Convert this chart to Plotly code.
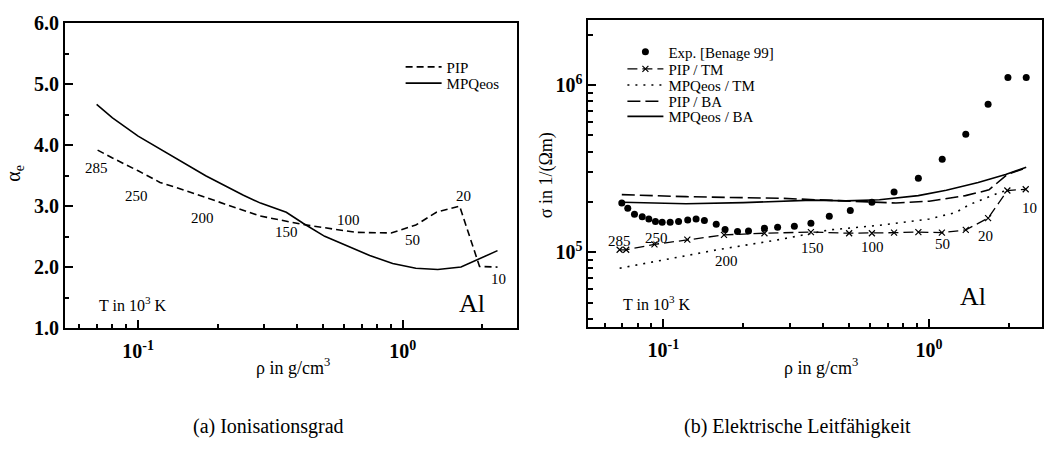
import math
import plotly.graph_objects as go

# ---------------- data: panel (a) ionisation degree ----------------
rho_mpq_a = [0.0697, 0.08, 0.1, 0.13, 0.18, 0.25, 0.29, 0.363, 0.42, 0.507, 0.75, 0.916, 1.12, 1.356, 1.66, 2.28]
alpha_mpq = [4.67, 4.45, 4.15, 3.86, 3.5, 3.18, 3.05, 2.90, 2.72, 2.505, 2.19, 2.06, 1.98, 1.96, 2.0, 2.27]
rho_pip_a = [0.0703, 0.08, 0.1, 0.121, 0.15, 0.2, 0.288, 0.418, 0.664, 0.904, 1.12, 1.34, 1.64, 1.95, 2.28]
alpha_pip = [3.92, 3.79, 3.58, 3.39, 3.26, 3.07, 2.84, 2.70, 2.57, 2.56, 2.69, 2.90, 3.00, 2.01, 2.0]
temp_labels = ["285", "250", "200", "150", "100", "50", "20", "10"]
temp_rho_a = [0.0697, 0.0986, 0.175, 0.364, 0.624, 1.087, 1.69, 2.30]
temp_alpha_a = [3.625, 3.17, 2.81, 2.58, 2.77, 2.44, 3.17, 1.81]

# ---------------- data: panel (b) electrical conductivity ----------------
rho_exp = [0.0697, 0.0734, 0.0778, 0.0832, 0.0881, 0.0933, 0.0989, 0.106, 0.114, 0.1234,
           0.1327, 0.1426, 0.158, 0.1706, 0.190, 0.209, 0.240, 0.269, 0.311, 0.359,
           0.421, 0.505, 0.609, 0.738, 0.911, 1.12, 1.374, 1.667, 1.98, 2.32]
sig_exp = [1.97e5, 1.83e5, 1.69e5, 1.63e5, 1.58e5, 1.53e5, 1.51e5, 1.51e5, 1.53e5, 1.56e5,
           1.58e5, 1.55e5, 1.47e5, 1.37e5, 1.33e5, 1.34e5, 1.39e5, 1.41e5, 1.43e5, 1.49e5,
           1.64e5, 1.78e5, 1.99e5, 2.29e5, 2.77e5, 3.6e5, 5.08e5, 7.66e5, 1.107e6, 1.107e6]
rho_pip_tm = [0.0684, 0.0724, 0.0925, 0.123, 0.169, 0.240, 0.359, 0.500, 0.609, 0.738,
              0.911, 1.117, 1.374, 1.667, 1.97, 2.31]
sig_pip_tm = [1.035e5, 1.035e5, 1.115e5, 1.19e5, 1.27e5, 1.30e5, 1.32e5, 1.30e5, 1.30e5, 1.31e5,
              1.32e5, 1.31e5, 1.36e5, 1.60e5, 2.34e5, 2.38e5]
rho_mpq_tm = [0.0684, 0.162, 0.265, 0.421, 0.65, 1.0, 1.26, 1.42, 1.86, 1.97]
sig_mpq_tm = [8.03e4, 1.04e5, 1.18e5, 1.36e5, 1.45e5, 1.58e5, 1.73e5, 1.93e5, 2.29e5, 2.34e5]
rho_pip_ba = [0.0697, 0.1216, 0.281, 0.42, 0.56, 0.75, 1.0, 1.37, 1.68, 1.97, 2.32]
sig_pip_ba = [2.21e5, 2.15e5, 2.10e5, 2.05e5, 2.01e5, 1.97e5, 2.02e5, 2.18e5, 2.36e5, 2.92e5, 3.2e5]
rho_mpq_ba = [0.0703, 0.1216, 0.2, 0.281, 0.365, 0.486, 0.65, 0.91, 1.16, 1.53, 1.94, 2.32]
sig_mpq_ba = [1.99e5, 1.95e5, 1.98e5, 2.01e5, 2.05e5, 2.03e5, 2.06e5, 2.18e5, 2.35e5, 2.61e5, 2.92e5, 3.22e5]
temp_rho_b = [0.0684, 0.0944, 0.172, 0.364, 0.612, 1.122, 1.633, 2.388]
temp_sig_b = [1.164e5, 1.216e5, 8.83e4, 1.067e5, 1.076e5, 1.114e5, 1.256e5, 1.828e5]

# tick definitions
alpha_ticks = [1, 2, 3, 4, 5, 6]
alpha_ticktext = ["<b>1.0</b>", "<b>2.0</b>", "<b>3.0</b>", "<b>4.0</b>", "<b>5.0</b>", "<b>6.0</b>"]
alpha_minor = [1.5, 2.5, 3.5, 4.5, 5.5]
rho_ticks = [0.1, 1]
rho_ticktext = ["<b>10<sup>-1</sup></b>", "<b>10<sup>0</sup></b>"]
rho_minor = [0.06, 0.07, 0.08, 0.09, 0.2, 0.3, 0.4, 0.5, 0.6, 0.7, 0.8, 0.9, 2]
sig_ticks = [1e5, 1e6]
sig_ticktext = ["<b>10<sup>5</sup></b>", "<b>10<sup>6</sup></b>"]
sig_minor = [4e4, 5e4, 6e4, 7e4, 8e4, 9e4, 2e5, 3e5, 4e5, 5e5, 6e5, 7e5, 8e5, 9e5, 2e6]

FONT = "'Liberation Serif', 'Times New Roman', serif"
W, H = 1044, 458
lw = 1.6

fig = go.Figure()

# panel (a)
fig.add_trace(go.Scatter(x=rho_pip_a, y=alpha_pip, mode="lines", name="PIP",
                         line=dict(color="black", width=lw, dash="7px,4px"),
                         xaxis="x", yaxis="y", legend="legend"))
fig.add_trace(go.Scatter(x=rho_mpq_a, y=alpha_mpq, mode="lines", name="MPQeos",
                         line=dict(color="black", width=lw),
                         xaxis="x", yaxis="y", legend="legend2"))

# panel (b)
fig.add_trace(go.Scatter(x=rho_exp, y=sig_exp, mode="markers", name="Exp. [Benage 99]",
                         marker=dict(color="black", size=7, symbol="circle"),
                         xaxis="x2", yaxis="y2", legend="legend3"))
fig.add_trace(go.Scatter(x=rho_pip_tm, y=sig_pip_tm, mode="lines+markers", name="PIP / TM",
                         line=dict(color="black", width=1.3, dash="10px,5px"),
                         marker=dict(symbol="x-thin", size=6, line=dict(color="black", width=1.2)),
                         xaxis="x2", yaxis="y2", legend="legend4"))
fig.add_trace(go.Scatter(x=rho_mpq_tm, y=sig_mpq_tm, mode="lines", name="MPQeos / TM",
                         line=dict(color="black", width=lw, dash="2px,6px"),
                         xaxis="x2", yaxis="y2", legend="legend5"))
fig.add_trace(go.Scatter(x=rho_pip_ba, y=sig_pip_ba, mode="lines", name="PIP / BA",
                         line=dict(color="black", width=lw, dash="13px,5px"),
                         xaxis="x2", yaxis="y2", legend="legend6"))
fig.add_trace(go.Scatter(x=rho_mpq_ba, y=sig_mpq_ba, mode="lines", name="MPQeos / BA",
                         line=dict(color="black", width=lw),
                         xaxis="x2", yaxis="y2", legend="legend7"))

tickfont = dict(family=FONT, size=20, color="black")
base = dict(showgrid=False, zeroline=False, ticks="inside", ticklen=8, tickwidth=1.5,
            tickcolor="black")
line_axis = dict(base, showline=True, linecolor="black", linewidth=2, mirror=True, tickfont=tickfont)
ghost = dict(base, showline=False, showticklabels=False)


def minor(vals):
    return dict(tickvals=vals, ticks="inside", ticklen=4.5, tickwidth=1.5, tickcolor="black")


def leg(xpx, ypx):
    return dict(x=xpx / W, y=1 - ypx / H, xanchor="left", yanchor="middle",
                bgcolor="rgba(0,0,0,0)", font=dict(family=FONT, size=15, color="black"),
                itemwidth=36, borderwidth=0)


xr_a = [math.log10(0.0529), math.log10(2.69)]
xr_b = [math.log10(0.0522), math.log10(2.66)]
yr_b = [4.553, 6.391]

fig.update_layout(
    width=W, height=H, margin=dict(l=0, r=0, t=0, b=0),
    paper_bgcolor="white", plot_bgcolor="white",
    xaxis=dict(line_axis, type="log", domain=[65 / W, 517 / W], anchor="y", range=xr_a,
               tickvals=rho_ticks, ticktext=rho_ticktext, minor=minor(rho_minor), ticklabelstandoff=4),
    yaxis=dict(line_axis, domain=[1 - 333 / H, 1 - 13 / H], anchor="x", range=[1, 6],
               tickvals=alpha_ticks, ticktext=alpha_ticktext, minor=minor(alpha_minor)),
    xaxis2=dict(line_axis, type="log", domain=[589 / W, 1043 / W], anchor="y2", range=xr_b,
                tickvals=rho_ticks, ticktext=rho_ticktext, minor=minor(rho_minor), ticklabelstandoff=4),
    yaxis2=dict(line_axis, type="log", domain=[1 - 332 / H, 1 - 9 / H], anchor="x2", range=yr_b,
                tickvals=sig_ticks, ticktext=sig_ticktext, minor=minor(sig_minor)),
    # mirrored tick axes (top / right)
    xaxis3=dict(ghost, type="log", overlaying="x", side="top", anchor="y", range=xr_a,
                tickvals=rho_ticks, minor=minor(rho_minor)),
    yaxis3=dict(ghost, overlaying="y", side="right", anchor="x", range=[1, 6],
                tickvals=alpha_ticks, minor=minor(alpha_minor)),
    xaxis4=dict(ghost, type="log", overlaying="x2", side="top", anchor="y2", range=xr_b,
                tickvals=rho_ticks, minor=minor(rho_minor)),
    yaxis4=dict(ghost, type="log", overlaying="y2", side="right", anchor="x2", range=yr_b,
                tickvals=sig_ticks, minor=minor(sig_minor)),
    legend=leg(401, 59),
    legend2=leg(401, 76),
    legend3=leg(623, 43),
    legend4=leg(623, 61),
    legend5=leg(623, 78),
    legend6=leg(623, 95),
    legend7=leg(623, 111),
    showlegend=True,
)

ann = []
tf = dict(family=FONT, size=15, color="black")
for lab, r, a in zip(temp_labels, temp_rho_a, temp_alpha_a):
    ann.append(dict(x=math.log10(r), y=a, xref="x", yref="y", text=lab, showarrow=False, font=tf,
                    xanchor="center", yanchor="middle"))
for lab, r, s in zip(temp_labels, temp_rho_b, temp_sig_b):
    ann.append(dict(x=math.log10(r), y=math.log10(s), xref="x2", yref="y2", text=lab, showarrow=False,
                    font=tf, xanchor="center", yanchor="middle"))

# "T in 10^3 K" and "Al"
ann.append(dict(x=math.log10(0.0698), y=1.39, xref="x", yref="y", xanchor="left", yanchor="middle",
                text="T in 10<sup>3</sup> K", showarrow=False, font=dict(family=FONT, size=16, color="black")))
ann.append(dict(x=math.log10(0.0693), y=4.696, xref="x2", yref="y2", xanchor="left", yanchor="middle",
                text="T in 10<sup>3</sup> K", showarrow=False, font=dict(family=FONT, size=16, color="black")))
ann.append(dict(x=math.log10(1.83), y=1.41, xref="x", yref="y", text="Al", showarrow=False,
                xanchor="center", yanchor="middle", font=dict(family=FONT, size=26, color="black")))
ann.append(dict(x=math.log10(1.46), y=4.734, xref="x2", yref="y2", text="Al", showarrow=False,
                xanchor="center", yanchor="middle", font=dict(family=FONT, size=26, color="black")))


def pann(xpx, ypx, text, size, angle=0):
    return dict(x=xpx / W, y=1 - ypx / H, xref="paper", yref="paper", text=text, textangle=angle,
                xanchor="center", yanchor="middle", showarrow=False,
                font=dict(family=FONT, size=size, color="black"))


# axis titles
ann.append(pann(293, 373, "ρ in g/cm<sup>3</sup>", 18))
ann.append(pann(822, 373, "ρ in g/cm<sup>3</sup>", 18))
ann.append(pann(15, 170, "α<sub>e</sub>", 20, -90))
ann.append(pann(547, 172, "σ in 1/(Ωm)", 18, -90))

# captions
ann.append(pann(269, 436, "(a) Ionisationsgrad", 20))
ann.append(pann(798, 436, "(b) Elektrische Leitfähigkeit", 20))

fig.update_layout(annotations=ann)
fig.write_html("out.html")
